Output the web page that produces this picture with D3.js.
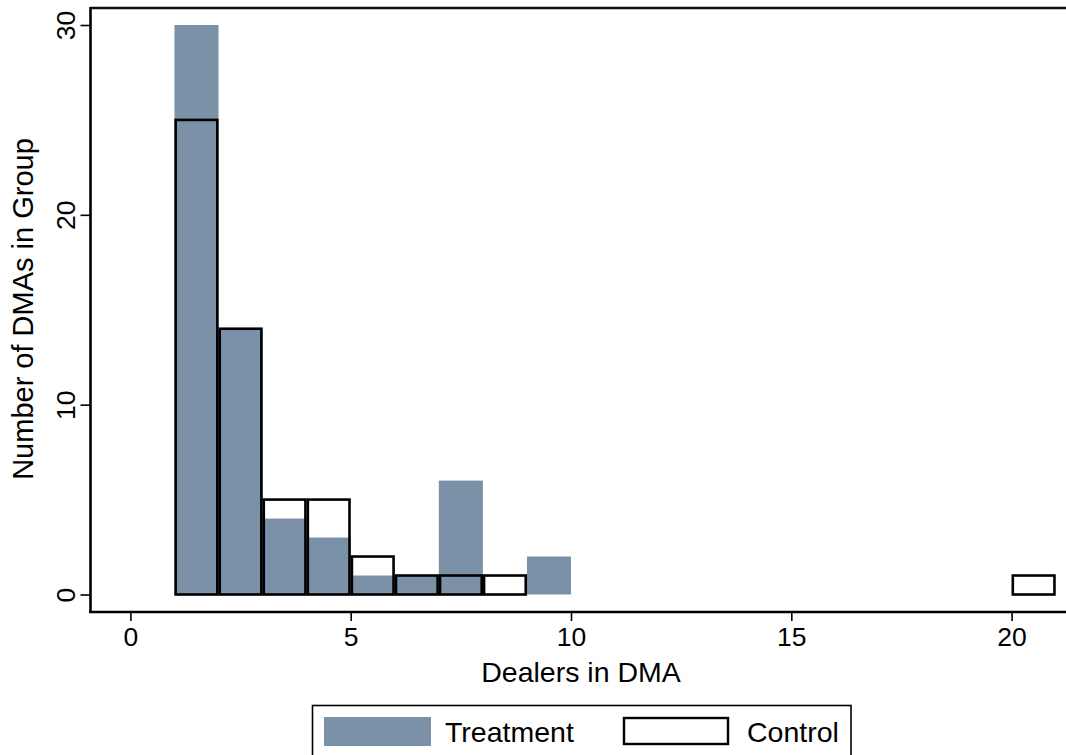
<!DOCTYPE html>
<html><head><meta charset="utf-8">
<script src="https://cdn.jsdelivr.net/npm/d3@7"></script>
<style>html,body{margin:0;padding:0;background:#fff;}svg{display:block;font-family:"Liberation Sans",Arial,sans-serif;}</style>
</head><body>
<script>
const binStart = [1,2,3,4,5,6,7,8,9,20];
const binWidth = 1;
const treatment = [30,14,4,3,1,1,6,0,2,0];
const control = [25,14,5,5,2,1,1,1,0,1];
const xTicks = [0,5,10,15,20];
const yTicks = [0,10,20,30];
const xTitle = "Dealers in DMA";
const yTitle = "Number of DMAs in Group";
const legendLabels = ["Treatment","Control"];

(function(){
const W=1066,H=755;
const svg=d3.select("body").append("svg").attr("width",W).attr("height",H);
const x=d3.scaleLinear().domain([0,20]).range([130.4,1011.6]);
const y=d3.scaleLinear().domain([0,30]).range([594.5,25]);
const fillCol="#7b91a8";

// treatment bars
svg.append("g").selectAll("rect").data(binStart.map((b,i)=>({b,v:treatment[i]})).filter(d=>d.v>0))
 .join("rect").attr("x",d=>x(d.b)).attr("width",d=>x(d.b+binWidth)-x(d.b))
 .attr("y",d=>y(d.v)).attr("height",d=>y(0)-y(d.v)).attr("fill",fillCol);
// control bars
svg.append("g").selectAll("rect").data(binStart.map((b,i)=>({b,v:control[i]})).filter(d=>d.v>0))
 .join("rect").attr("x",d=>x(d.b)+1.2).attr("width",d=>x(d.b+binWidth)-x(d.b)-2.4)
 .attr("y",d=>y(d.v)).attr("height",d=>y(0)-y(d.v)).attr("fill","none")
 .attr("stroke","#000").attr("stroke-width",2.6);

// frame
const pLeft=90.5, pTop=8, pBottom=612, pRight=1070;
svg.append("line").attr("x1",pLeft).attr("x2",pRight).attr("y1",pTop).attr("y2",pTop).attr("stroke","#111").attr("stroke-width",2.5);
// x axis
const xa=svg.append("g").attr("transform",`translate(0,${pBottom})`)
 .call(d3.axisBottom(x).tickValues(xTicks).tickSize(9).tickPadding(6).tickFormat(d3.format("d")));
xa.select(".domain").remove();
xa.append("line").attr("x1",pLeft-1.5).attr("x2",pRight).attr("stroke","#000").attr("stroke-width",2.6);
xa.selectAll(".tick line").attr("stroke","#000").attr("stroke-width",1.6);
xa.selectAll(".tick text").attr("font-size",26.5).attr("fill","#000").attr("font-family","'Liberation Sans',Arial,sans-serif");
// y axis
const ya=svg.append("g").attr("transform",`translate(${pLeft},0)`)
 .call(d3.axisLeft(y).tickValues(yTicks).tickSize(10).tickFormat(d3.format("d")));
ya.select(".domain").remove();
ya.append("line").attr("y1",pTop-1).attr("y2",pBottom).attr("stroke","#000").attr("stroke-width",2.6);
ya.selectAll(".tick line").attr("stroke","#000").attr("stroke-width",1.6);
ya.selectAll(".tick text").attr("font-size",26.5).attr("fill","#000")
 .attr("font-family","'Liberation Sans',Arial,sans-serif")
 .attr("x",null).attr("dy",null).attr("text-anchor","middle")
 .attr("transform","translate(-16,0) rotate(-90)").attr("y",0);
// titles
svg.append("text").attr("x",581).attr("y",682).attr("text-anchor","middle").attr("font-size",28.5).text(xTitle);
svg.append("text").attr("transform","translate(33,309) rotate(-90)").attr("text-anchor","middle").attr("font-size",29).text(yTitle);

// legend
const lg=svg.append("g");
lg.append("rect").attr("x",312.5).attr("y",705.5).attr("width",538.5).attr("height",60).attr("fill","#fff").attr("stroke","#000").attr("stroke-width",1.6);
lg.append("rect").attr("x",324).attr("y",717).attr("width",107).attr("height",29).attr("fill",fillCol);
lg.append("rect").attr("x",624).attr("y",718).attr("width",104).attr("height",26).attr("fill","#fff").attr("stroke","#000").attr("stroke-width",2.4);
lg.append("text").attr("x",445).attr("y",742).attr("font-size",28.5).text(legendLabels[0]);
lg.append("text").attr("x",747).attr("y",742).attr("font-size",28.5).text(legendLabels[1]);
})();
</script>
</body></html>
